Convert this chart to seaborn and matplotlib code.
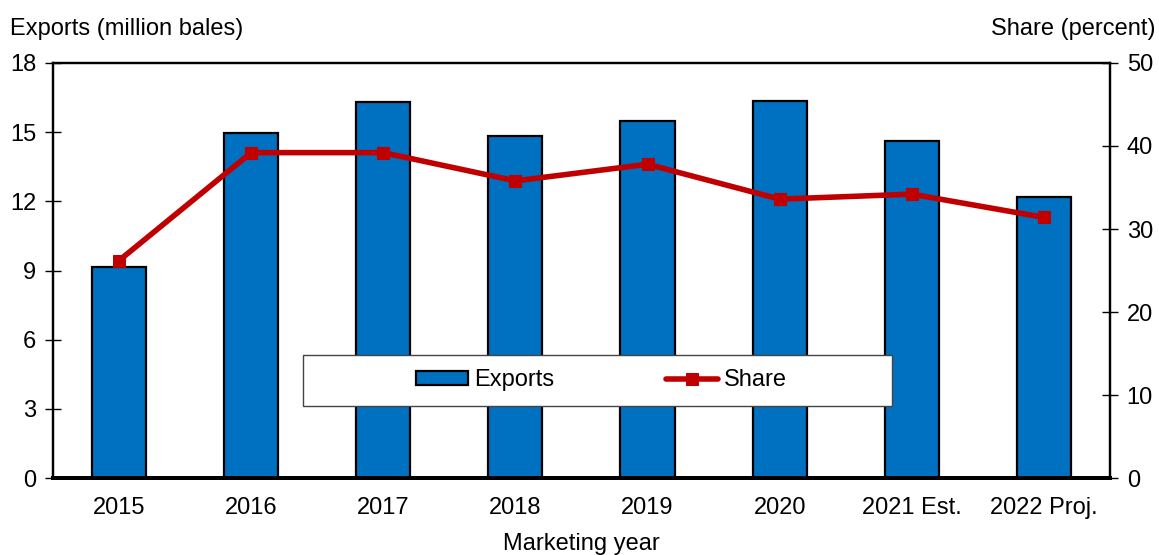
"""
Cotton exports and share by marketing year
"""
import pandas as pd
import numpy as np
import matplotlib
matplotlib.use("Agg")
import matplotlib.pyplot as plt
from matplotlib.patches import Rectangle
import seaborn as sns

# Data
years = ["2015", "2016", "2017", "2018", "2019", "2020", "2021 Est.", "2022 Proj."]
exports = [9.15, 14.95, 16.3, 14.85, 15.5, 16.35, 14.6, 12.2]   # million bales
share = [26.2, 39.2, 39.2, 35.8, 37.8, 33.6, 34.2, 31.4]         # percent

BLUE = "#0070C0"
RED = "#C00000"
FS = 17

sns.set_theme(style="white")
plt.rcParams["font.family"] = ["Liberation Sans", "DejaVu Sans"]
plt.rcParams["font.size"] = FS
plt.rcParams["text.color"] = "black"
plt.rcParams["axes.labelcolor"] = "black"
plt.rcParams["xtick.color"] = "black"
plt.rcParams["ytick.color"] = "black"

df = pd.DataFrame({"year": years, "exports": exports, "share": share})

fig, ax = plt.subplots(figsize=(11.59, 5.55), dpi=100)
fig.subplots_adjust(left=0.0457, right=0.9577, top=0.8865, bottom=0.1387)

# Bars
sns.barplot(data=df, x="year", y="exports", color=BLUE, saturation=1,
            width=0.41, edgecolor="black", linewidth=1.6, ax=ax, label="Exports")

# Share line on secondary axis
ax2 = ax.twinx()
pos = np.arange(len(years))
sns.lineplot(x=pos, y=df["share"], color=RED, linewidth=4, marker="s",
             markersize=9, markeredgecolor=RED, ax=ax2, label="Share")

ax.set_xlim(-0.5, len(years) - 0.5)
ax.set_ylim(0, 18)
ax.set_yticks(np.arange(0, 19, 3))
ax2.set_ylim(0, 50)
ax2.set_yticks(np.arange(0, 51, 10))

# Category ticks at boundaries, labels at centres
ax.set_xticks(np.arange(-0.5, len(years)), labels=[""] * (len(years) + 1))
ax.set_xticks(pos, labels=years, minor=True)
ax.tick_params(axis="x", which="major", direction="out", length=10, width=1, color="#555555")
ax.tick_params(axis="x", which="minor", length=0, pad=14, labelsize=FS)
ax.tick_params(axis="y", direction="inout", length=12, width=1, labelsize=FS, pad=6, left=True)
ax2.tick_params(axis="y", direction="inout", length=12, width=1, labelsize=FS, pad=6, right=True)

ax.set_xlabel("Marketing year", fontsize=FS, labelpad=10)
ax.set_ylabel("")
ax2.set_ylabel("")

for a in (ax, ax2):
    for sp in a.spines.values():
        sp.set_color("black")
        sp.set_linewidth(1.6)
    a.spines["bottom"].set_linewidth(2.8)
    a.grid(False)

fig.text(0.009, 0.948, "Exports (million bales)", fontsize=FS, ha="left", va="center")
fig.text(0.997, 0.948, "Share (percent)", fontsize=FS, ha="right", va="center")

# Combined legend inside a white box
h1, l1 = ax.get_legend_handles_labels()
h2, l2 = ax2.get_legend_handles_labels()
for a in (ax, ax2):
    if a.get_legend():
        a.get_legend().remove()

box = Rectangle((0.2365, 0.1735), 0.557, 0.123, transform=ax2.transAxes,
                facecolor="white", edgecolor="#444444", linewidth=1, zorder=4)
ax2.add_patch(box)
leg = ax2.legend(h1 + h2, l1 + l2, ncol=2, loc="center",
                 bbox_to_anchor=(0.2365 + 0.557 / 2 + 0.004, 0.1735 + 0.123 / 2),
                 frameon=False, fontsize=FS, handlelength=2.2,
                 handleheight=0.55, handletextpad=0.25, columnspacing=4.75,
                 borderaxespad=0)
leg.set_zorder(5)

fig.savefig("out.png", dpi=100)
